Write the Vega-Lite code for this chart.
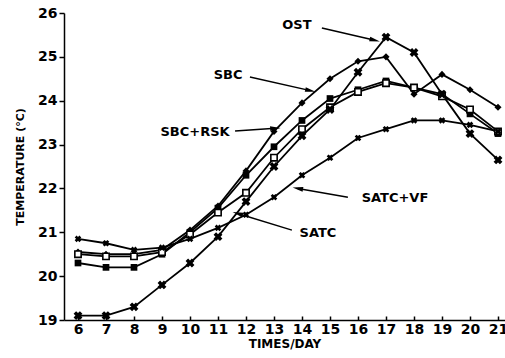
{
  "$schema": "https://vega.github.io/schema/vega-lite/v6.json",
  "autosize": {"type": "none"},
  "padding": {"left": 64, "top": 13, "right": 0, "bottom": 38},
  "width": 441,
  "height": 307,
  "background": "white",
  "config": {
    "view": {"stroke": null},
    "font": "DejaVu Sans",
    "axis": {"grid": false, "domainColor": "black", "domainWidth": 1.5, "tickColor": "black", "tickWidth": 1.5, "labelColor": "black", "labelFont": "DejaVu Sans", "labelFontWeight": "bold", "labelFontSize": 14, "titleFont": "DejaVu Sans", "titleFontWeight": "bold", "titleColor": "black"}
  },
  "datasets": {
    "temps": [
      {"series": "OST", "time": 6, "temp": 19.1}, {"series": "OST", "time": 7, "temp": 19.1}, {"series": "OST", "time": 8, "temp": 19.3}, {"series": "OST", "time": 9, "temp": 19.8}, {"series": "OST", "time": 10, "temp": 20.3}, {"series": "OST", "time": 11, "temp": 20.9}, {"series": "OST", "time": 12, "temp": 21.7}, {"series": "OST", "time": 13, "temp": 22.5}, {"series": "OST", "time": 14, "temp": 23.2}, {"series": "OST", "time": 15, "temp": 23.8}, {"series": "OST", "time": 16, "temp": 24.65}, {"series": "OST", "time": 17, "temp": 25.45}, {"series": "OST", "time": 18, "temp": 25.1}, {"series": "OST", "time": 19, "temp": 24.15}, {"series": "OST", "time": 20, "temp": 23.25}, {"series": "OST", "time": 21, "temp": 22.65},
      {"series": "SBC", "time": 6, "temp": 20.55}, {"series": "SBC", "time": 7, "temp": 20.5}, {"series": "SBC", "time": 8, "temp": 20.5}, {"series": "SBC", "time": 9, "temp": 20.6}, {"series": "SBC", "time": 10, "temp": 21.05}, {"series": "SBC", "time": 11, "temp": 21.6}, {"series": "SBC", "time": 12, "temp": 22.4}, {"series": "SBC", "time": 13, "temp": 23.3}, {"series": "SBC", "time": 14, "temp": 23.95}, {"series": "SBC", "time": 15, "temp": 24.5}, {"series": "SBC", "time": 16, "temp": 24.9}, {"series": "SBC", "time": 17, "temp": 25.0}, {"series": "SBC", "time": 18, "temp": 24.15}, {"series": "SBC", "time": 19, "temp": 24.6}, {"series": "SBC", "time": 20, "temp": 24.25}, {"series": "SBC", "time": 21, "temp": 23.85},
      {"series": "SBC+RSK", "time": 6, "temp": 20.5}, {"series": "SBC+RSK", "time": 7, "temp": 20.45}, {"series": "SBC+RSK", "time": 8, "temp": 20.45}, {"series": "SBC+RSK", "time": 9, "temp": 20.55}, {"series": "SBC+RSK", "time": 10, "temp": 20.95}, {"series": "SBC+RSK", "time": 11, "temp": 21.45}, {"series": "SBC+RSK", "time": 12, "temp": 21.9}, {"series": "SBC+RSK", "time": 13, "temp": 22.7}, {"series": "SBC+RSK", "time": 14, "temp": 23.35}, {"series": "SBC+RSK", "time": 15, "temp": 23.85}, {"series": "SBC+RSK", "time": 16, "temp": 24.2}, {"series": "SBC+RSK", "time": 17, "temp": 24.4}, {"series": "SBC+RSK", "time": 18, "temp": 24.3}, {"series": "SBC+RSK", "time": 19, "temp": 24.1}, {"series": "SBC+RSK", "time": 20, "temp": 23.8}, {"series": "SBC+RSK", "time": 21, "temp": 23.3},
      {"series": "SATC", "time": 6, "temp": 20.3}, {"series": "SATC", "time": 7, "temp": 20.2}, {"series": "SATC", "time": 8, "temp": 20.2}, {"series": "SATC", "time": 9, "temp": 20.5}, {"series": "SATC", "time": 10, "temp": 21.0}, {"series": "SATC", "time": 11, "temp": 21.55}, {"series": "SATC", "time": 12, "temp": 22.3}, {"series": "SATC", "time": 13, "temp": 22.95}, {"series": "SATC", "time": 14, "temp": 23.55}, {"series": "SATC", "time": 15, "temp": 24.05}, {"series": "SATC", "time": 16, "temp": 24.25}, {"series": "SATC", "time": 17, "temp": 24.45}, {"series": "SATC", "time": 18, "temp": 24.3}, {"series": "SATC", "time": 19, "temp": 24.15}, {"series": "SATC", "time": 20, "temp": 23.7}, {"series": "SATC", "time": 21, "temp": 23.25},
      {"series": "SATC+VF", "time": 6, "temp": 20.85}, {"series": "SATC+VF", "time": 7, "temp": 20.75}, {"series": "SATC+VF", "time": 8, "temp": 20.6}, {"series": "SATC+VF", "time": 9, "temp": 20.65}, {"series": "SATC+VF", "time": 10, "temp": 20.85}, {"series": "SATC+VF", "time": 11, "temp": 21.1}, {"series": "SATC+VF", "time": 12, "temp": 21.4}, {"series": "SATC+VF", "time": 13, "temp": 21.8}, {"series": "SATC+VF", "time": 14, "temp": 22.3}, {"series": "SATC+VF", "time": 15, "temp": 22.7}, {"series": "SATC+VF", "time": 16, "temp": 23.15}, {"series": "SATC+VF", "time": 17, "temp": 23.35}, {"series": "SATC+VF", "time": 18, "temp": 23.55}, {"series": "SATC+VF", "time": 19, "temp": 23.55}, {"series": "SATC+VF", "time": 20, "temp": 23.45}, {"series": "SATC+VF", "time": 21, "temp": 23.3}
    ],
    "labels": [
      {"label": "OST", "x": 13.82, "y": 25.73},
      {"label": "SBC", "x": 11.36, "y": 24.59},
      {"label": "SBC+RSK", "x": 10.18, "y": 23.29},
      {"label": "SATC+VF", "x": 17.32, "y": 21.78},
      {"label": "SATC", "x": 14.57, "y": 20.98}
    ],
    "arrows": [
      {"label": "OST", "x": 14.71, "y": 25.66, "x2": 16.6, "y2": 25.38, "angle": 104},
      {"label": "SBC", "x": 12.14, "y": 24.54, "x2": 14.3, "y2": 24.23, "angle": 103},
      {"label": "SBC+RSK", "x": 11.61, "y": 23.31, "x2": 13.05, "y2": 23.37, "angle": 86},
      {"label": "SATC+VF", "x": 15.64, "y": 21.8, "x2": 13.85, "y2": 22.0, "angle": 280},
      {"label": "SATC", "x": 13.64, "y": 21.05, "x2": 11.7, "y2": 21.43, "angle": 287}
    ]
  },
  "layer": [
    {
      "data": {"name": "temps"},
      "mark": {"type": "line", "color": "black", "strokeWidth": 1.8},
      "encoding": {
        "x": {"field": "time", "type": "quantitative", "scale": {"domain": [5.5, 21.25], "nice": false, "zero": false}, "axis": {"values": [6, 7, 8, 9, 10, 11, 12, 13, 14, 15, 16, 17, 18, 19, 20, 21], "tickCount": 16, "labelOverlap": false, "labelBound": false, "labelFlush": false, "tickSize": -4, "labelPadding": 6, "title": "TIMES/DAY", "titleFontSize": 12, "titlePadding": 2}},
        "y": {"field": "temp", "type": "quantitative", "scale": {"domain": [19, 26], "nice": false, "zero": false}, "axis": {"values": [19, 20, 21, 22, 23, 24, 25, 26], "labelOverlap": false, "tickSize": 5, "labelPadding": 2, "title": "TEMPERATURE (°C)", "titleFontSize": 11, "titlePadding": 12}},
        "detail": {"field": "series"}
      }
    },
    {
      "data": {"name": "temps"},
      "transform": [{"filter": "datum.series === 'SBC'"}],
      "mark": {"type": "point", "shape": "diamond", "filled": true, "color": "black", "size": 50, "opacity": 1},
      "encoding": {"x": {"field": "time", "type": "quantitative"}, "y": {"field": "temp", "type": "quantitative"}}
    },
    {
      "data": {"name": "temps"},
      "transform": [{"filter": "datum.series === 'SATC'"}],
      "mark": {"type": "point", "shape": "square", "filled": true, "color": "black", "size": 45, "opacity": 1},
      "encoding": {"x": {"field": "time", "type": "quantitative"}, "y": {"field": "temp", "type": "quantitative"}}
    },
    {
      "data": {"name": "temps"},
      "transform": [{"filter": "datum.series === 'SBC+RSK'"}],
      "mark": {"type": "point", "shape": "square", "filled": true, "fill": "white", "stroke": "black", "strokeWidth": 1.6, "size": 40, "opacity": 1},
      "encoding": {"x": {"field": "time", "type": "quantitative"}, "y": {"field": "temp", "type": "quantitative"}}
    },
    {
      "data": {"name": "temps"},
      "transform": [{"filter": "datum.series === 'OST'"}],
      "mark": {"type": "point", "shape": "cross", "angle": 45, "filled": true, "color": "black", "size": 80, "opacity": 1},
      "encoding": {"x": {"field": "time", "type": "quantitative"}, "y": {"field": "temp", "type": "quantitative"}}
    },
    {
      "data": {"name": "temps"},
      "transform": [{"filter": "datum.series === 'SATC+VF'"}],
      "mark": {"type": "point", "shape": "cross", "angle": 45, "filled": true, "color": "black", "size": 45, "opacity": 1},
      "encoding": {"x": {"field": "time", "type": "quantitative"}, "y": {"field": "temp", "type": "quantitative"}}
    },
    {
      "mark": {"type": "rule", "color": "black", "strokeWidth": 1.5},
      "encoding": {"y": {"datum": 26}}
    },
    {
      "data": {"name": "arrows"},
      "mark": {"type": "rule", "color": "black", "strokeWidth": 1.5},
      "encoding": {"x": {"field": "x", "type": "quantitative"}, "y": {"field": "y", "type": "quantitative"}, "x2": {"field": "x2"}, "y2": {"field": "y2"}}
    },
    {
      "data": {"name": "arrows"},
      "mark": {"type": "point", "shape": "M0,-1L0.45,1L-0.45,1Z", "filled": true, "color": "black", "size": 110, "opacity": 1},
      "encoding": {"x": {"field": "x2", "type": "quantitative"}, "y": {"field": "y2", "type": "quantitative"}, "angle": {"field": "angle", "type": "quantitative", "scale": null}}
    },
    {
      "data": {"name": "labels"},
      "mark": {"type": "text", "font": "DejaVu Sans", "fontWeight": "bold", "fontSize": 13, "color": "black", "align": "center", "baseline": "middle"},
      "encoding": {"x": {"field": "x", "type": "quantitative"}, "y": {"field": "y", "type": "quantitative"}, "text": {"field": "label"}}
    }
  ]
}
